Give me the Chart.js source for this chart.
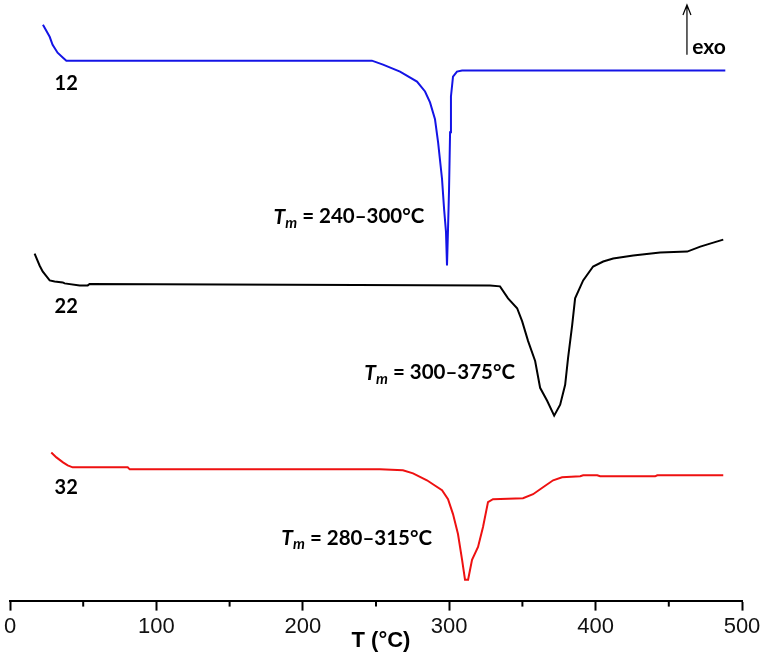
<!DOCTYPE html>
<html>
<head>
<meta charset="utf-8">
<script src="https://cdn.jsdelivr.net/npm/chart.js@4.4.0/dist/chart.umd.min.js"></script>
<style>
  html, body { margin: 0; padding: 0; background: #fff; }
  #wrap { width: 765px; height: 662px; }
</style>
</head>
<body>
<div id="wrap"><canvas id="dsc"></canvas></div>
<script>
// DSC curves, heat flow in arbitrary units (exo up)
const blueT  = [22.5, 27.1, 29.1, 32.5, 36.2, 38.5, 247.2, 254.8, 266.4, 278, 283.5, 286.9, 290.3, 292.4, 295.1, 296.5, 297.8, 298.5, 299.2, 299.9, 300.6, 301.2, 302.6, 305.3, 308.8, 488.6];
const blueHF = [579, 567, 559, 551, 546, 543, 543, 539, 532, 522, 512, 501, 484, 461, 424, 394, 371, 337, 374, 414, 471, 507, 527, 532, 533, 533];

const blackT  = [16.8, 20.2, 22.3, 27.1, 30.5, 36, 37.3, 47.6, 53.1, 54.4, 327.9, 334.7, 340.2, 346.4, 349.8, 353.9, 358.7, 362.1, 366.9, 371.7, 375.8, 379.2, 381.2, 384, 386, 391.5, 398.3, 405.2, 412, 425.7, 444.1, 462.6, 471.5, 480.4, 487.2];
const blackHF = [349, 337, 331, 322, 321, 320, 319, 317, 317, 318.5, 317, 316, 304, 294, 281, 261, 241, 214, 201, 186, 197, 217, 244, 277, 304, 322, 336, 341, 344, 347, 350, 351, 356, 360, 363];

const redT  = [28.2, 31.7, 36.2, 39.4, 42.8, 80.4, 81.8, 252.7, 268.4, 275.3, 284.8, 288.9, 295.1, 299.2, 302.6, 306, 308.8, 310.8, 312.9, 315.6, 319.7, 323.1, 326.5, 329.9, 350.4, 357.3, 364.1, 371, 377.1, 389.5, 391.5, 401.1, 403.1, 440.7, 442.1, 487.2];
const redHF = [149, 144, 139, 136, 134, 134, 132, 132, 131, 128, 121, 117, 111, 102, 87, 67, 41, 21, 21, 41, 54, 74, 99, 102, 103, 107, 114, 121, 124, 125, 126, 126, 125, 125, 126, 126];

const sampleNames = ['12', '22', '32'];
const meltRanges = ['240–300°C', '300–375°C', '280–315°C'];
const xTitle = 'T (°C)';

function pts(xs, ys) { return xs.map((x, i) => ({ x: x, y: ys[i] })); }

// where the texts sit, in data units
const nameAt = [{ x: 38.4, y: 519.5 }, { x: 38.4, y: 295.5 }, { x: 38.4, y: 113.5 }];
const rangeAt = [{ x: 283, y: 386 }, { x: 345, y: 229 }, { x: 288.3, y: 63 }];

const labelsPlugin = {
  id: 'labels',
  afterDraw(chart) {
    const c = chart.ctx, xs = chart.scales.x, ys = chart.scales.y;
    c.save();
    c.fillStyle = '#000';
    c.textBaseline = 'middle';

    // sample names
    c.font = 'bold 20px Lato';
    c.textAlign = 'center';
    sampleNames.forEach((s, i) => {
      c.fillText(s, xs.getPixelForValue(nameAt[i].x), ys.getPixelForValue(nameAt[i].y));
    });

    // Tm = ... right aligned
    c.textAlign = 'left';
    meltRanges.forEach((r, i) => {
      const right = xs.getPixelForValue(rangeAt[i].x);
      const y = ys.getPixelForValue(rangeAt[i].y);
      const rest = ' = ' + r;
      c.font = 'italic bold 21px Lato';
      const wT = c.measureText('T').width;
      c.font = 'italic bold 15px Lato';
      const wm = c.measureText('m').width;
      c.font = 'bold 20.5px Lato';
      const wr = c.measureText(rest).width;
      let x = right - wr - wm - wT;
      c.font = 'italic bold 21px Lato';
      c.fillText('T', x, y);
      c.font = 'italic bold 15px Lato';
      c.fillText('m', x + wT, y + 6);
      c.font = 'bold 20.5px Lato';
      c.fillText(rest, x + wT + wm, y);
    });

    // exo arrow
    const ax = xs.getPixelForValue(462.4);
    const top = ys.getPixelForValue(599), bot = ys.getPixelForValue(549);
    c.strokeStyle = '#000';
    c.lineWidth = 1.2;
    c.beginPath();
    c.moveTo(ax, bot); c.lineTo(ax, top);
    c.moveTo(ax - 4, top + 10); c.lineTo(ax, top); c.lineTo(ax + 4, top + 10);
    c.stroke();
    c.font = 'bold 21px Lato';
    c.fillText('exo', xs.getPixelForValue(466), ys.getPixelForValue(557));

    // minor ticks
    c.lineWidth = 2;
    const b = chart.chartArea.bottom;
    for (let v = 50; v < 500; v += 100) {
      const px = xs.getPixelForValue(v);
      c.beginPath(); c.moveTo(px, b); c.lineTo(px, b + 6); c.stroke();
    }

    // axis title
    c.font = 'bold 22px "Liberation Sans"';
    c.textAlign = 'center';
    c.textBaseline = 'alphabetic';
    c.fillText(xTitle, xs.getPixelForValue(253.4), b + 46);
    c.restore();
  }
};

const ctx = document.getElementById('dsc').getContext('2d');
new Chart(ctx, {
  type: 'scatter',
  data: {
    datasets: [
      { data: pts(blueT, blueHF), showLine: true, borderColor: '#1414e6', borderWidth: 2 },
      { data: pts(blackT, blackHF), showLine: true, borderColor: '#000', borderWidth: 2 },
      { data: pts(redT, redHF), showLine: true, borderColor: '#ee1111', borderWidth: 2 }
    ]
  },
  options: {
    responsive: true,
    maintainAspectRatio: false,
    animation: false,
    layout: { padding: { left: 10, right: 23, top: 0, bottom: 19 } },
    elements: { point: { radius: 0 }, line: { tension: 0 } },
    plugins: { legend: { display: false }, tooltip: { enabled: false } },
    scales: {
      x: {
        type: 'linear', min: 0, max: 500,
        ticks: {
          stepSize: 50, autoSkip: false, maxRotation: 0, padding: 3, color: '#111',
          font: { family: 'Liberation Sans', size: 22 },
          callback: v => (v % 100 === 0 ? v : '')
        },
        grid: {
          drawOnChartArea: false, tickLength: 10, tickWidth: 2,
          tickColor: c => (c.tick && c.tick.value % 100 === 0 ? '#000' : 'rgba(0,0,0,0)')
        },
        border: { color: '#000', width: 2 }
      },
      y: { display: false, min: 0, max: 604 }
    }
  },
  plugins: [labelsPlugin]
});
</script>
</body>
</html>
